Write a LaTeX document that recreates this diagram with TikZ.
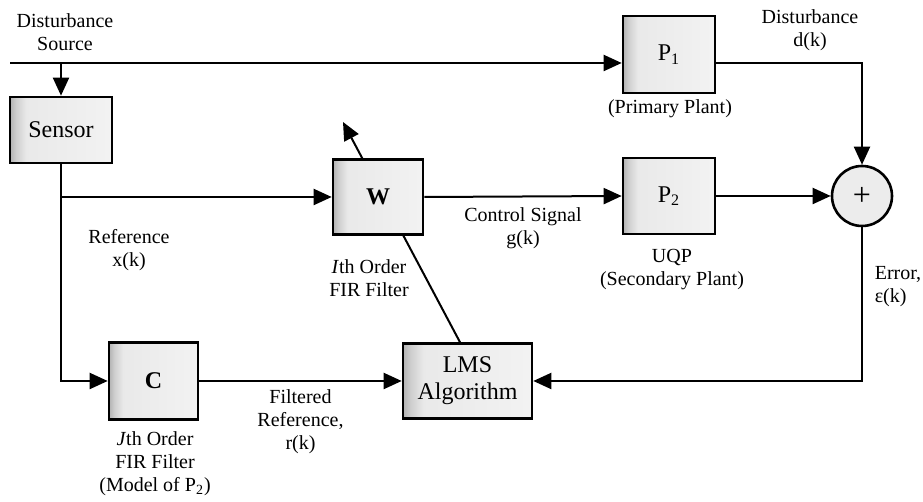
\documentclass[tikz,border=0pt]{standalone}
\usepackage{fontspec}
\setmainfont{Liberation Serif}
\usetikzlibrary{arrows.meta, backgrounds}
\pgfdeclarehorizontalshading{blockshade}{100bp}{color(0bp)=(gray!60); color(25bp)=(gray!60); color(28bp)=(gray!38); color(33bp)=(gray!17); color(75bp)=(gray!10); color(100bp)=(gray!10)}

\begin{document}
\begin{tikzpicture}[x=0.5pt, y=-0.5pt,
  block/.style={draw, line width=1.3pt, shading=blockshade, inner sep=1pt,
    font=\fontsize{12}{13.5}\selectfont},
  sumnode/.style={circle, draw, line width=1.3pt, fill=gray!15,
    minimum size=30pt, inner sep=0pt},
  note/.style={align=center, inner sep=0pt, font=\fontsize{10}{11.5}\selectfont},
  sig/.style={line width=1pt, -{Triangle[length=9pt, width=8pt]}}]
  \useasboundingbox (0, 0) rectangle (923, 502);

  \node (Sensor) at (61, 130) [block, minimum width=51pt, minimum height=33pt] {
    Sensor
  };

  \node (W) at (378, 197) [block, minimum width=45pt, minimum height=37.5pt] {
    \textbf{W}
  };

  \node (P1) at (669, 54.5) [block, minimum width=46pt, minimum height=38.5pt] {
    P\textsubscript{1}
  };

  \node (P2) at (669, 196) [block, minimum width=46pt, minimum height=38pt] {
    P\textsubscript{2}
  };

  \node (C) at (153.5, 381) [block, minimum width=44.5pt, minimum height=38.5pt] {
    \textbf{C}
  };

  \node (LMS) at (467.5, 381) [block, align=center, minimum width=64.5pt, minimum height=37.5pt] {
    LMS\\Algorithm
  };

  \node (Sum) at (862, 196) [sumnode] {
    \fontsize{16}{16}\selectfont +
  };

  \coordinate (Src) at (10, 63);
  \coordinate (Tip) at (343, 122);

  \node (T1) at (65, 32) [note] {Disturbance\\Source};
  \node (T2) at (810, 30) [note] {Disturbance\\d(k)};
  \node (T3) at (670, 109) [note] {(Primary Plant)};
  \node (T4) at (129, 250) [note] {Reference\\x(k)};
  \node (T5) at (369, 278) [note] {\textit{I}th Order\\FIR Filter};
  \node (T6) at (672, 270) [note] {UQP\\(Secondary Plant)};
  \node (T7) at (898, 287) [note, align=left] {Error,\\ε(k)};
  \node (T8) at (155, 464) [note] {\textit{J}th Order\\FIR Filter\\(Model of P\textsubscript{2})};

  \draw[sig] (Src) -- (P1.west |- Src);
  \draw[sig] (Sensor.north |- Src) -- (Sensor.north);
  \draw[sig] (Sensor.south) -- (Sensor.south |- C.west) -- (C.west);
  \draw[sig] (Sensor.south |- W.west) -- (W.west);
  \draw[sig] (W.east) -- (P2.west) node[midway, below=5pt, note] {Control Signal\\g(k)};
  \draw[sig] (P1.east |- Src) -| (Sum.north);
  \draw[sig] (P2.east) -- (Sum.west);
  \draw[sig] (Sum.south) |- (LMS.east);
  \draw[sig] (C.east) -- (LMS.west) node[midway, below=4pt, note] {Filtered\\Reference,\\r(k)};
  \begin{scope}[on background layer]
    \draw[sig] ([xshift=-3.75pt]LMS.north) -- (Tip);
  \end{scope}
\end{tikzpicture}
\end{document}
